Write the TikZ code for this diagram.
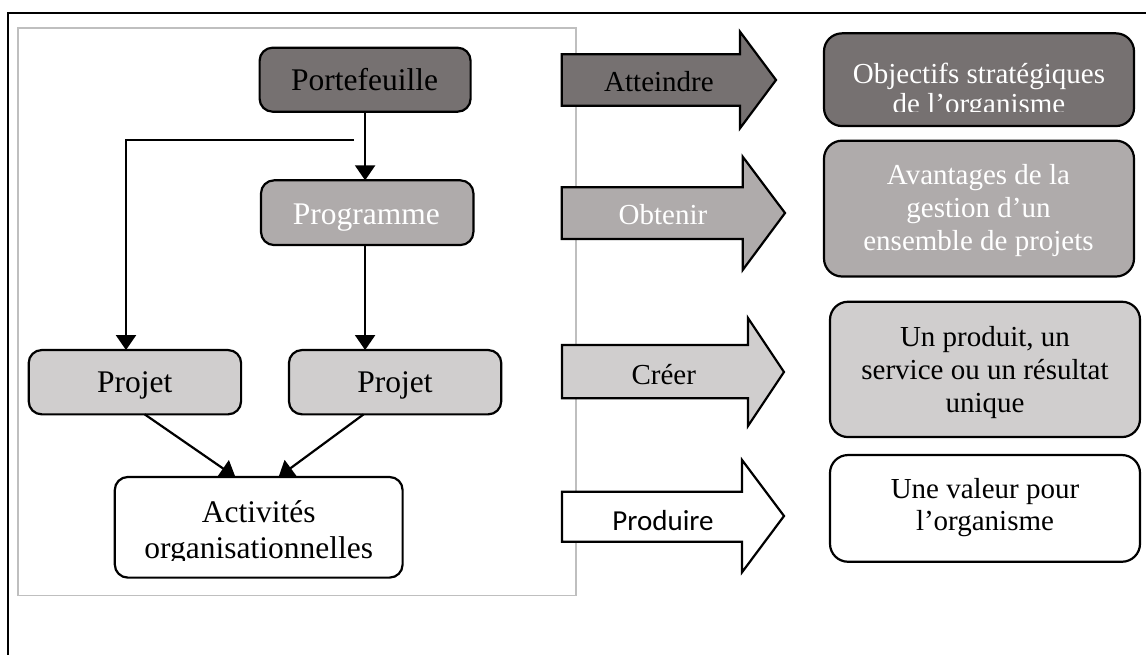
\documentclass[tikz,border=0pt]{standalone}
\usepackage{fontspec}
\setmainfont{Liberation Serif}
\newfontfamily\labelsans{Carlito}
\usetikzlibrary{arrows.meta}
\definecolor{shadeDark}{HTML}{767171}
\definecolor{shadeMid}{HTML}{AFABAB}
\definecolor{shadeLight}{HTML}{D0CECE}
\definecolor{frameGray}{HTML}{BFBFBF}
\begin{document}
\begin{tikzpicture}[x=1pt,y=-1pt,
  box/.style n args={3}{draw=black,line width=2.2pt,rounded corners=#3,
    minimum width=#1,minimum height=#2,inner sep=0pt,outer sep=0pt},
  leftbox/.style 2 args={box={#1}{#2}{13pt}},
  rightbox/.style 2 args={box={#1}{#2}{18pt}},
  lefttext/.style={font=\fontsize{31.5}{35.6}\selectfont,inner sep=0pt,align=center},
  righttext/.style={font=\fontsize{29}{33}\selectfont,inner sep=0pt,align=center},
  verbtext/.style={font=\fontsize{29}{33}\selectfont,inner sep=0pt,anchor=base},
  bigarrow/.style={draw=black,line width=2.2pt,line join=miter},
  conn/.style={draw=black,line width=2.2pt,-{Triangle[width=20pt,length=15pt]}},
]
\useasboundingbox (0,0) rectangle (1146,655);
\fill[white] (0,0) rectangle (1146,655);

% outer frame and grey grouping frame
\draw[line width=2.2pt] (8,670) -- (8,12.7) -- (1160,12.7);
\draw[frameGray,line width=1.8pt] (18,28.3) rectangle (576,595.5);

% block arrows with their verbs
\draw[bigarrow,fill=shadeDark] (561.7,54.3) -- (740,54.3) -- (740,31.7) -- (776,80)
  -- (740,128.3) -- (740,105.7) -- (561.7,105.7) -- cycle;
\node[verbtext] (reach) at (659,91.7) {Atteindre};
\draw[bigarrow,fill=shadeMid] (561.7,187.3) -- (742.7,187.3) -- (742.7,156.7) -- (785,213)
  -- (742.7,270) -- (742.7,239) -- (561.7,239) -- cycle;
\node[verbtext,text=white] (obtain) at (663,225) {Obtenir};
\draw[bigarrow,fill=shadeLight] (562,345) -- (748,345) -- (748,318) -- (784,372)
  -- (748,426) -- (748,398.3) -- (562,398.3) -- cycle;
\node[verbtext] (create) at (663.7,384) {Créer};
\draw[bigarrow,fill=white] (562,491.7) -- (742,491.7) -- (742,460) -- (784,516)
  -- (742,572.3) -- (742,541.7) -- (562,541.7) -- cycle;
\node[verbtext,font=\labelsans\fontsize{29}{33}\selectfont] (produce) at (663,530.7) {Produire};

% hierarchy boxes
\node[leftbox={211pt}{64pt},fill=shadeDark] (port) at (365.1,79.7) {};
\node[leftbox={212.4pt}{64.7pt},fill=shadeMid] (prog) at (367.2,212.7) {};
\node[leftbox={212.4pt}{64.3pt},fill=shadeLight] (proj1) at (134.9,382.2) {};
\node[leftbox={212.3pt}{64.3pt},fill=shadeLight] (proj2) at (395.1,382.2) {};
\node[leftbox={287.8pt}{100.6pt},fill=white] (act) at (258.7,527.3) {};

\node[lefttext,anchor=base] (port-t) at (364.5,90.7) {Portefeuille};
\node[lefttext,anchor=base,text=white] (prog-t) at (366.4,225) {Programme};
\node[lefttext,anchor=base] (proj1-t) at (134.7,392.7) {Projet};
\node[lefttext,anchor=base] (proj2-t) at (395.1,392.7) {Projet};
\begin{scope}
  \clip (115,477) rectangle (403,560);
  \node[lefttext,anchor=north] (act-t) at (258.7,497.3)
    {\strut Activités\\\strut organisationnelles};
\end{scope}

% outcome boxes
\node[rightbox={310pt}{92.7pt},fill=shadeDark] (goal) at (979,79.7) {};
\node[rightbox={310pt}{135.8pt},fill=shadeMid] (gain) at (979,208.6) {};
\node[rightbox={310pt}{135.3pt},fill=shadeLight] (make) at (985,369.4) {};
\node[rightbox={310pt}{106.7pt},fill=white] (worth) at (985,508.4) {};

\begin{scope}
  \clip (824,33.3) rectangle (1134,112);
  \node[righttext,font=\fontsize{29}{26.7}\selectfont,text=white,anchor=north] (goal-t)
    at (979,63.3) {\strut Objectifs stratégiques\\\strut de l’organisme};
\end{scope}
\node[righttext,text=white,anchor=north] (gain-t) at (978.5,160.9)
  {\strut Avantages de la\\\strut gestion d’un\\\strut ensemble de projets};
\node[righttext,anchor=north] (make-t) at (985,322.9)
  {\strut Un produit, un\\\strut service ou un résultat\\\strut unique};
\node[righttext,font=\fontsize{29}{32}\selectfont,anchor=north] (worth-t) at (985,475.9)
  {\strut Une valeur pour\\\strut l’organisme};

% connectors
\draw[conn] (port.south) -- (port.south |- prog.north);
\draw[conn] (port.south |- prog.south) -- (port.south |- proj2.north);
\coordinate (split) at (354,140);
\coordinate (corner) at (126,140);
\draw[conn] (split) -- (corner) -- (corner |- proj1.north);
\draw[conn] ([xshift=9.8pt]proj1.south) -- ([xshift=-23.3pt]act.north);
\draw[conn] ([xshift=-31.5pt]proj2.south) -- ([xshift=19.9pt]act.north);
\end{tikzpicture}
\end{document}
